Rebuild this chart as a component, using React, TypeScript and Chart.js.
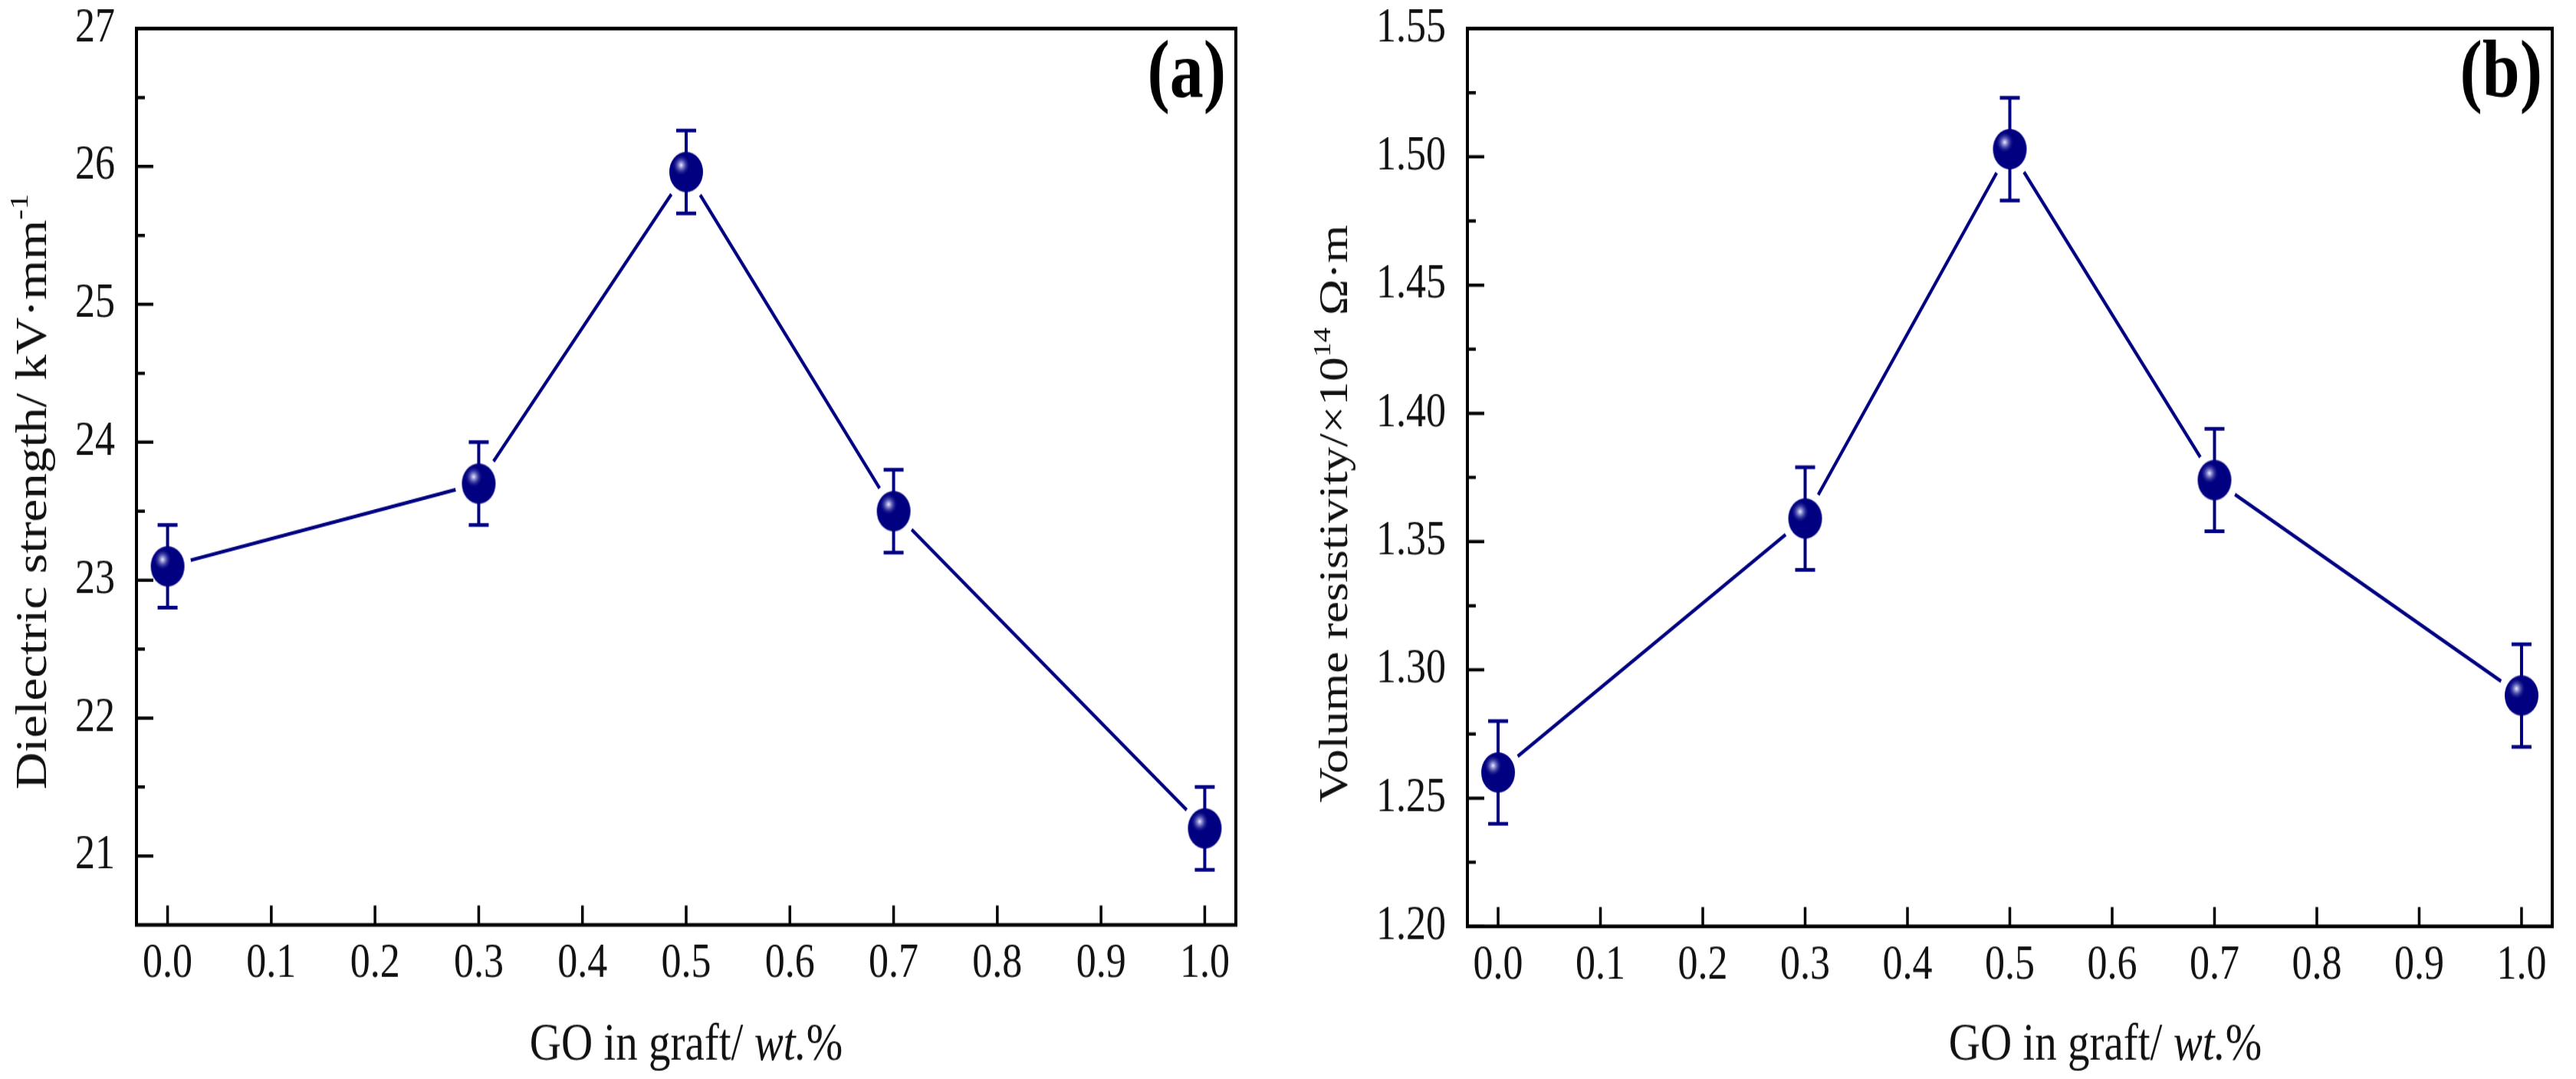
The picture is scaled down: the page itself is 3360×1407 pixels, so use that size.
import { useEffect, useRef } from "react";
import { Chart, registerables } from "chart.js";

Chart.register(...registerables);

// GO content in the graft (wt.%)
const GO_CONTENT = [0.0, 0.3, 0.5, 0.7, 1.0];

// (a) dielectric strength, kV/mm
const STRENGTH = [23.1, 23.7, 25.96, 23.5, 21.2];
const STRENGTH_ERR = [0.3, 0.3, 0.3, 0.3, 0.3];

// (b) volume resistivity, x10^14 ohm.m
const RESISTIVITY = [1.26, 1.359, 1.503, 1.374, 1.29];
const RESISTIVITY_ERR = [0.02, 0.02, 0.02, 0.02, 0.02];

const X_TICKS = [0.0, 0.1, 0.2, 0.3, 0.4, 0.5, 0.6, 0.7, 0.8, 0.9, 1.0];
const STRENGTH_TICKS = [21, 22, 23, 24, 25, 26, 27];
const STRENGTH_MINOR = [21.5, 22.5, 23.5, 24.5, 25.5, 26.5];
const RESISTIVITY_TICKS = [1.2, 1.25, 1.3, 1.35, 1.4, 1.45, 1.5, 1.55];
const RESISTIVITY_MINOR = [1.225, 1.275, 1.325, 1.375, 1.425, 1.475, 1.525];

const CANVAS_W = 1680;
const CANVAS_H = 1172;
const PAGE_H = 1407;
const FONT = '"Liberation Serif", "Times New Roman", Times, serif';
const NAVY = "#000080";
const INK = "#111111";

type Run = { text: string; kind?: "italic" | "sup" };

type Panel = {
  tag: string;
  values: number[];
  errors: number[];
  yMin: number;
  yMax: number;
  yTicks: number[];
  yMinor: number[];
  yDigits: number;
  yTitle: Run[];
  yTitleSize: number;
  area: { left: number; right: number; top: number; bottom: number };
  yTitleX: number;
  yTitleY: number;
  xTitleX: number;
};

const X_TITLE: Run[] = [{ text: "GO in graft/ " }, { text: "wt.", kind: "italic" }, { text: "%" }];

const PANELS: Panel[] = [
  {
    tag: "(a)",
    values: STRENGTH,
    errors: STRENGTH_ERR,
    yMin: 20.5,
    yMax: 27,
    yTicks: STRENGTH_TICKS,
    yMinor: STRENGTH_MINOR,
    yDigits: 0,
    yTitle: [{ text: "Dielectric strength/ kV·mm" }, { text: "-1", kind: "sup" }],
    yTitleSize: 56,
    area: { left: 178, right: 1612, top: 26.7, bottom: 1004.6 },
    yTitleX: 60,
    yTitleY: 534,
    xTitleX: 895,
  },
  {
    tag: "(b)",
    values: RESISTIVITY,
    errors: RESISTIVITY_ERR,
    yMin: 1.2,
    yMax: 1.55,
    yTicks: RESISTIVITY_TICKS,
    yMinor: RESISTIVITY_MINOR,
    yDigits: 2,
    yTitle: [{ text: "Volume resistivity/×10" }, { text: "14", kind: "sup" }, { text: " Ω·m" }],
    yTitleSize: 53,
    area: { left: 234, right: 1670, top: 26.7, bottom: 1006.2 },
    yTitleX: 77,
    yTitleY: 558,
    xTitleX: 1066,
  },
];

function makeBall(r: number) {
  const c = document.createElement("canvas");
  const size = Math.ceil(r * 2 + 4);
  c.width = size;
  c.height = size;
  const g = c.getContext("2d")!;
  const cx = size / 2;
  const cy = size / 2;
  g.beginPath();
  g.arc(cx, cy, r, 0, Math.PI * 2);
  g.fillStyle = NAVY;
  g.fill();
  const hx = cx - r * 0.3;
  const hy = cy - r * 0.34;
  const grad = g.createRadialGradient(hx, hy, 0, hx, hy, r * 0.55);
  grad.addColorStop(0, "rgba(255,255,255,0.95)");
  grad.addColorStop(0.3, "rgba(180,180,235,0.7)");
  grad.addColorStop(1, "rgba(0,0,128,0)");
  g.beginPath();
  g.arc(cx, cy, r, 0, Math.PI * 2);
  g.fillStyle = grad;
  g.fill();
  return c;
}

function drawRuns(ctx: CanvasRenderingContext2D, runs: Run[], size: number, x: number, y: number, rotate: boolean) {
  const fontFor = (r: Run) =>
    r.kind === "sup"
      ? `${Math.round(size * 0.6)}px ${FONT}`
      : r.kind === "italic"
      ? `italic ${size}px ${FONT}`
      : `${size}px ${FONT}`;
  ctx.save();
  ctx.translate(x, y);
  if (rotate) ctx.rotate(-Math.PI / 2);
  let total = 0;
  const widths = runs.map((r) => {
    ctx.font = fontFor(r);
    const w = ctx.measureText(r.text).width;
    total += w;
    return w;
  });
  let pos = -total / 2;
  ctx.textAlign = "left";
  ctx.textBaseline = "alphabetic";
  ctx.fillStyle = INK;
  runs.forEach((r, i) => {
    ctx.font = fontFor(r);
    ctx.fillText(r.text, pos, r.kind === "sup" ? -size * 0.42 : 0);
    pos += widths[i];
  });
  ctx.restore();
}

function makeDecor(panel: Panel) {
  return {
    id: "decor",
    afterDatasetDraw(chart: any, args: any) {
      if (args.index !== 0) return;
      const { ctx } = chart;
      const xs = chart.scales.x;
      const ys = chart.scales.y;
      ctx.save();
      ctx.strokeStyle = NAVY;
      ctx.lineWidth = 4;
      GO_CONTENT.forEach((gx, i) => {
        const px = xs.getPixelForValue(gx);
        const top = ys.getPixelForValue(panel.values[i] + panel.errors[i]);
        const bot = ys.getPixelForValue(panel.values[i] - panel.errors[i]);
        ctx.beginPath();
        ctx.moveTo(px, top);
        ctx.lineTo(px, bot);
        ctx.moveTo(px - 13, top);
        ctx.lineTo(px + 13, top);
        ctx.moveTo(px - 13, bot);
        ctx.lineTo(px + 13, bot);
        ctx.stroke();
      });
      ctx.restore();
    },
    afterDraw(chart: any) {
      const { ctx, chartArea } = chart;
      const xs = chart.scales.x;
      const ys = chart.scales.y;
      ctx.save();
      ctx.strokeStyle = "#000";
      ctx.lineWidth = 3.5;
      ctx.beginPath();
      X_TICKS.forEach((t) => {
        const px = xs.getPixelForValue(t);
        ctx.moveTo(px, chartArea.bottom);
        ctx.lineTo(px, chartArea.bottom - 21);
      });
      panel.yTicks.forEach((t) => {
        const py = ys.getPixelForValue(t);
        ctx.moveTo(chartArea.left, py);
        ctx.lineTo(chartArea.left + 22, py);
      });
      panel.yMinor.forEach((t) => {
        const py = ys.getPixelForValue(t);
        ctx.moveTo(chartArea.left, py);
        ctx.lineTo(chartArea.left + 11, py);
      });
      ctx.stroke();
      ctx.lineWidth = 4;
      ctx.strokeRect(chartArea.left, chartArea.top, chartArea.right - chartArea.left, chartArea.bottom - chartArea.top);

      ctx.fillStyle = "#000";
      ctx.font = `bold 88px ${FONT}`;
      ctx.textAlign = "right";
      ctx.textBaseline = "alphabetic";
      ctx.fillText(panel.tag, chartArea.right - 13, 105);
      ctx.restore();

      drawRuns(ctx, X_TITLE, 57, panel.xTitleX, 1151, false);
      drawRuns(ctx, panel.yTitle, panel.yTitleSize, panel.yTitleX, panel.yTitleY, true);
    },
  };
}

function PanelChart({ panel, left }: { panel: Panel; left: number }) {
  const canvasRef = useRef<HTMLCanvasElement | null>(null);

  useEffect(() => {
    if (!canvasRef.current) return;
    const ball = makeBall(22);
    const points = GO_CONTENT.map((x, i) => ({ x, y: panel.values[i] }));
    const area = panel.area;
    const chart = new Chart(canvasRef.current, {
      type: "line",
      data: {
        datasets: [
          {
            data: points,
            order: 2,
            borderColor: NAVY,
            borderWidth: 4,
            tension: 0,
            pointRadius: 31,
            pointHoverRadius: 31,
            pointBackgroundColor: "#ffffff",
            pointBorderWidth: 0,
            pointHoverBorderWidth: 0,
          },
          {
            data: points,
            order: 1,
            showLine: false,
            pointStyle: ball as any,
            pointRadius: 22,
            pointHoverRadius: 22,
          },
        ],
      },
      options: {
        animation: false,
        responsive: false,
        devicePixelRatio: 1,
        events: [],
        layout: {
          padding: { left: 0, right: CANVAS_W - area.right, top: area.top, bottom: 0 },
        },
        plugins: {
          legend: { display: false },
          tooltip: { enabled: false },
        },
        scales: {
          x: {
            type: "linear",
            min: -0.03,
            max: 1.03,
            grid: { display: false, drawTicks: false },
            border: { display: false },
            afterBuildTicks: (scale: any) => {
              scale.ticks = X_TICKS.map((value) => ({ value }));
            },
            afterFit: (scale: any) => {
              scale.height = CANVAS_H - area.bottom;
              scale.paddingLeft = 0;
              scale.paddingRight = 0;
            },
            ticks: {
              padding: 12,
              color: INK,
              font: { family: FONT, size: 52 },
              maxRotation: 0,
              autoSkip: false,
              callback: (v: any) => Number(v).toFixed(1),
            },
          },
          y: {
            type: "linear",
            min: panel.yMin,
            max: panel.yMax,
            grid: { display: false, drawTicks: false },
            border: { display: false },
            afterBuildTicks: (scale: any) => {
              scale.ticks = panel.yTicks.map((value) => ({ value }));
            },
            afterFit: (scale: any) => {
              scale.width = area.left;
              scale.paddingTop = 0;
              scale.paddingBottom = 0;
            },
            ticks: {
              padding: 28,
              color: INK,
              font: { family: FONT, size: 52 },
              autoSkip: false,
              callback: (v: any) => Number(v).toFixed(panel.yDigits),
            },
          },
        },
      },
      plugins: [makeDecor(panel)],
    });
    return () => {
      chart.destroy();
    };
  }, [panel]);

  return (
    <div style={{ position: "absolute", left, top: 0, width: CANVAS_W, height: PAGE_H }}>
      <canvas
        ref={canvasRef}
        width={CANVAS_W}
        height={CANVAS_H}
        style={{ display: "block", width: CANVAS_W, height: PAGE_H }}
      />
    </div>
  );
}

export default function App() {
  return (
    <div
      style={{
        position: "absolute",
        left: 0,
        top: 0,
        width: CANVAS_W * 2,
        height: PAGE_H,
        background: "#ffffff",
        overflow: "hidden",
      }}
    >
      <PanelChart panel={PANELS[0]} left={0} />
      <PanelChart panel={PANELS[1]} left={CANVAS_W} />
    </div>
  );
}
